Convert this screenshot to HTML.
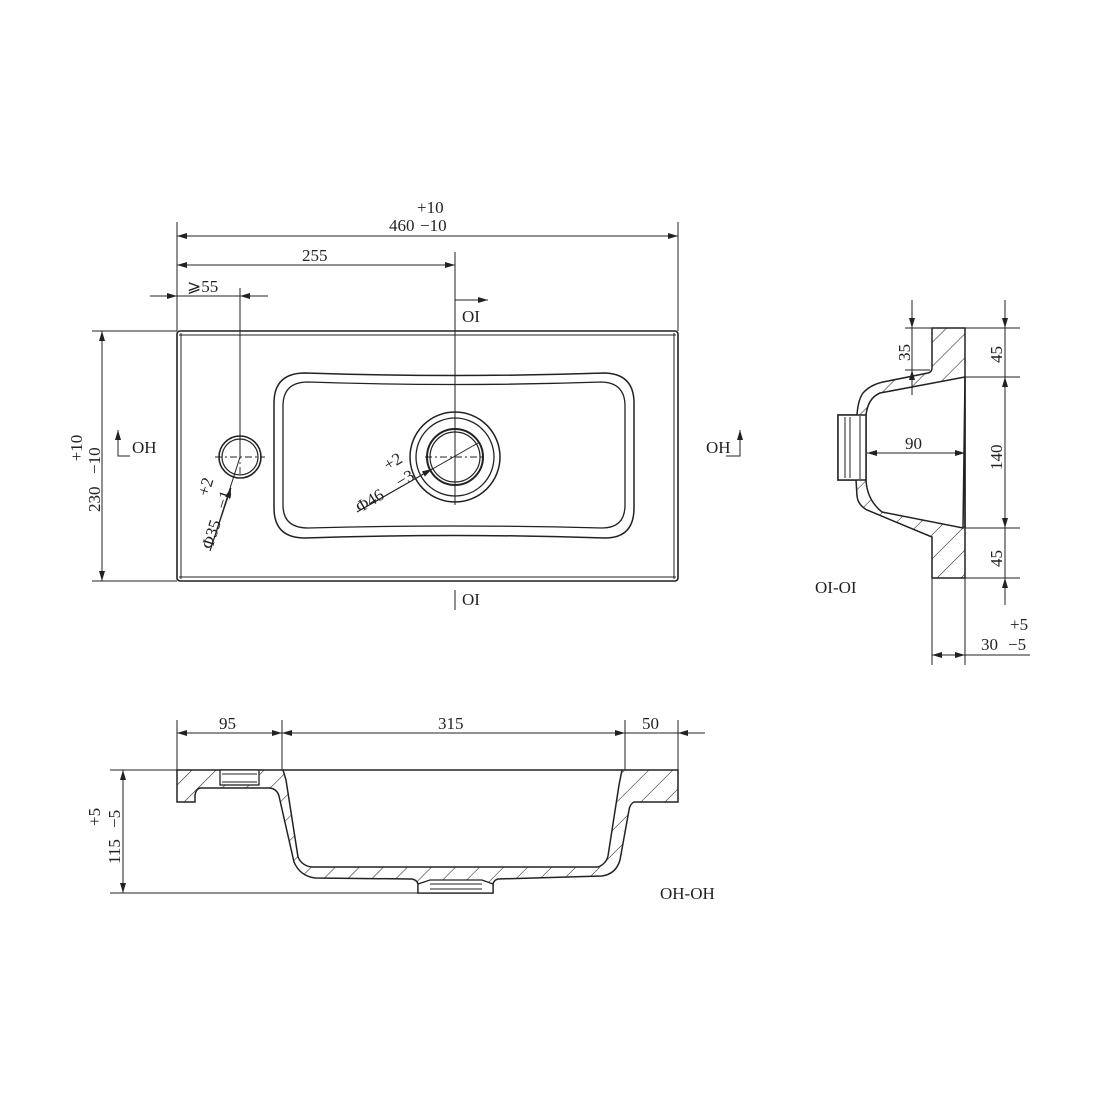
<!DOCTYPE html>
<html><head><meta charset="utf-8"><style>
html,body{margin:0;padding:0;background:#fff;}
svg{display:block;}
text{font-family:"Liberation Serif",serif;fill:#222;font-size:17px;}
</style></head><body>
<svg width="1100" height="1100" viewBox="0 0 1100 1100" xmlns="http://www.w3.org/2000/svg">
<defs>
<pattern id="h" patternUnits="userSpaceOnUse" width="17" height="17" patternTransform="rotate(45)">
<rect width="17" height="17" fill="#fff"/>
<line x1="0" y1="0" x2="0" y2="17" stroke="#222" stroke-width="1.1"/>
</pattern>
<marker id="a" viewBox="0 0 10 6" refX="10" refY="3" markerWidth="10" markerHeight="6" orient="auto-start-reverse" markerUnits="userSpaceOnUse">
<path d="M0,0 L10,3 L0,6 Z" fill="#222"/>
</marker>
</defs>
<g stroke="#222" fill="none" stroke-width="1">
<!-- TOP VIEW -->
<rect x="177" y="331" width="501" height="250" rx="3" stroke-width="1.6"/>
<line x1="179" y1="335" x2="676" y2="335"/>
<line x1="179" y1="577" x2="676" y2="577"/>
<line x1="181" y1="333" x2="181" y2="579"/>
<line x1="674" y1="333" x2="674" y2="579"/>
<path d="M305,373 Q455,378 605,373 Q634,374 634,403 L634,508 Q634,538 605,538 Q455,533 305,538 Q274,538 274,508 L274,403 Q274,373 305,373 Z" stroke-width="1.5"/>
<path d="M308,382 Q455,387 602,382 Q625,383 625,406 L625,505 Q625,528 602,528 Q455,524 308,528 Q283,528 283,505 L283,406 Q283,382 308,382 Z" stroke-width="1.3"/>
<circle cx="455" cy="457" r="45" stroke-width="1.5"/>
<circle cx="455" cy="457" r="39" stroke-width="1.3"/>
<circle cx="455" cy="457" r="28" stroke-width="2"/>
<circle cx="455" cy="457" r="25" stroke-width="1.2"/>
<circle cx="240" cy="457" r="21" stroke-width="1.6"/>
<circle cx="240" cy="457" r="18" stroke-width="1.2"/>
<g stroke-dasharray="7,3,2,3" stroke-width="0.9">
<line x1="425" y1="457" x2="485" y2="457"/>
<line x1="455" y1="427" x2="455" y2="487"/>
<line x1="215" y1="457" x2="265" y2="457"/>
<line x1="240" y1="437" x2="240" y2="477"/>
</g>
<!-- dims top -->
<line x1="177" y1="222" x2="177" y2="331"/>
<line x1="678" y1="222" x2="678" y2="331"/>
<line x1="177" y1="236" x2="678" y2="236" marker-start="url(#a)" marker-end="url(#a)"/>
<line x1="177" y1="265" x2="455" y2="265" marker-start="url(#a)" marker-end="url(#a)"/>
<line x1="455" y1="252" x2="455" y2="505"/>
<line x1="150" y1="296" x2="177" y2="296" marker-end="url(#a)"/>
<line x1="177" y1="296" x2="268" y2="296"/>
<line x1="268" y1="296" x2="240" y2="296" marker-end="url(#a)"/>
<line x1="240" y1="288" x2="240" y2="457"/>
<line x1="455" y1="300" x2="488" y2="300" marker-end="url(#a)"/>
<line x1="455" y1="590" x2="455" y2="610"/>
<!-- leaders -->
<line x1="240" y1="457" x2="210" y2="551"/>
<line x1="210" y1="551" x2="231" y2="488" marker-end="url(#a)"/>
<line x1="357" y1="512" x2="478" y2="443"/>
<line x1="357" y1="512" x2="432" y2="469" marker-end="url(#a)"/>
<!-- left vertical -->
<line x1="92" y1="331" x2="177" y2="331"/>
<line x1="92" y1="581" x2="177" y2="581"/>
<line x1="102" y1="331" x2="102" y2="581" marker-start="url(#a)" marker-end="url(#a)"/>
<polyline points="118,431 118,456 130,456"/>
<line x1="118" y1="456" x2="118" y2="430" marker-end="url(#a)"/>
<polyline points="740,431 740,456 726,456"/>
<line x1="740" y1="456" x2="740" y2="430" marker-end="url(#a)"/>

<!-- SIDE SECTION -->
<path fill-rule="evenodd" fill="url(#h)" stroke-width="1.5" d="M932,328 H965 V578 H932 V537 L867,510 Q858,505 857,496 L856,480 H838 V415 H857 Q858,400 863,393 Q870,385 883,382 L928,373 Q932,372 932,368 Z M965,377 L880,393 Q868,398 866,415 V480 Q867,500 882,512 L963,528 Z"/>
<rect x="838" y="415" width="28" height="65" fill="#fff" stroke-width="1.5"/>
<line x1="845" y1="417" x2="845" y2="478"/>
<line x1="850" y1="417" x2="850" y2="478"/>
<line x1="860" y1="416" x2="860" y2="479"/>
<line x1="965" y1="377" x2="965" y2="528" stroke-width="1.5"/>
<line x1="965" y1="328" x2="1020" y2="328"/>
<line x1="965" y1="377" x2="1020" y2="377"/>
<line x1="965" y1="528" x2="1020" y2="528"/>
<line x1="965" y1="578" x2="1020" y2="578"/>
<line x1="1005" y1="300" x2="1005" y2="328" marker-end="url(#a)"/>
<line x1="1005" y1="328" x2="1005" y2="578"/>
<line x1="1005" y1="377" x2="1005" y2="400" marker-start="url(#a)"/>
<line x1="1005" y1="505" x2="1005" y2="528" marker-end="url(#a)"/>
<line x1="1005" y1="605" x2="1005" y2="578" marker-end="url(#a)"/>
<line x1="905" y1="328" x2="932" y2="328"/>
<line x1="905" y1="370" x2="930" y2="370"/>
<line x1="912" y1="300" x2="912" y2="328" marker-end="url(#a)"/>
<line x1="912" y1="328" x2="912" y2="370"/>
<line x1="912" y1="395" x2="912" y2="370" marker-end="url(#a)"/>
<line x1="867" y1="453" x2="965" y2="453" marker-start="url(#a)" marker-end="url(#a)"/>
<line x1="932" y1="578" x2="932" y2="665"/>
<line x1="965" y1="578" x2="965" y2="665"/>
<line x1="932" y1="655" x2="1030" y2="655"/>
<line x1="932" y1="655" x2="948" y2="655" marker-start="url(#a)"/>
<line x1="950" y1="655" x2="965" y2="655" marker-end="url(#a)"/>

<!-- BOTTOM SECTION -->
<path fill="url(#h)" stroke-width="1.5" d="M177,770 H283 L286,780 L298,857 Q302,866 312,867 L598,867 Q606,864 608,856 L619,785 L622,770 H678 V802 H634 Q630,804 629,810 L620,860 Q616,874 602,876 L498,879 Q494,880 493,884 V893 H418 V884 Q417,880 412,879 L315,878 Q300,876 294,862 L279,796 Q277,789 270,788 H200 Q196,789 195,795 V802 H177 Z"/>
<rect x="220" y="770" width="39" height="15" fill="#fff" stroke-width="1.3"/>
<line x1="222" y1="774" x2="257" y2="774"/>
<line x1="222" y1="782" x2="257" y2="782"/>
<path d="M418,884 L430,880 H482 L493,884 V893 H418 Z" fill="#fff" stroke-width="1.3"/>
<line x1="430" y1="884" x2="482" y2="884"/>
<line x1="430" y1="889" x2="482" y2="889"/>
<line x1="283" y1="770" x2="622" y2="770" stroke-width="1.5"/>
<line x1="110" y1="770" x2="177" y2="770"/>
<line x1="110" y1="893" x2="418" y2="893"/>
<line x1="123" y1="770" x2="123" y2="893" marker-start="url(#a)" marker-end="url(#a)"/>
<line x1="177" y1="720" x2="177" y2="770"/>
<line x1="282" y1="720" x2="282" y2="770"/>
<line x1="625" y1="720" x2="625" y2="770"/>
<line x1="678" y1="720" x2="678" y2="770"/>
<line x1="177" y1="733" x2="282" y2="733" marker-start="url(#a)" marker-end="url(#a)"/>
<line x1="282" y1="733" x2="625" y2="733" marker-start="url(#a)" marker-end="url(#a)"/>
<line x1="625" y1="733" x2="705" y2="733"/>
<line x1="705" y1="733" x2="678" y2="733" marker-end="url(#a)"/>
</g>
<!-- text -->
<text x="417" y="213">+10</text>
<text x="389" y="231">460</text><text x="420" y="231">−10</text>
<text x="302" y="261">255</text>
<text x="187" y="292">⩾55</text>
<text x="462" y="322">OI</text>
<text x="462" y="605">OI</text>
<text x="132" y="453">OH</text>
<text x="706" y="453">OH</text>
<text transform="translate(82,448) rotate(-90)" text-anchor="middle">+10</text>
<text transform="translate(100,512) rotate(-90)">230</text>
<text transform="translate(100,474) rotate(-90)">−10</text>
<text transform="translate(212,550) rotate(-72)">Φ35</text>
<text transform="translate(226,510) rotate(-72)">−1</text>
<text transform="translate(208,497) rotate(-72)">+2</text>
<text transform="translate(360,513) rotate(-31)">Φ46</text>
<text transform="translate(400,488) rotate(-31)">−3</text>
<text transform="translate(388,471) rotate(-31)">+2</text>
<text x="815" y="593">OI-OI</text>
<text transform="translate(910,361) rotate(-90)">35</text>
<text x="905" y="449">90</text>
<text transform="translate(1002,363) rotate(-90)">45</text>
<text transform="translate(1002,470) rotate(-90)">140</text>
<text transform="translate(1002,567) rotate(-90)">45</text>
<text x="1010" y="630">+5</text>
<text x="981" y="650">30</text><text x="1008" y="650">−5</text>
<text x="219" y="729">95</text>
<text x="438" y="729">315</text>
<text x="642" y="729">50</text>
<text transform="translate(100,826) rotate(-90)">+5</text>
<text transform="translate(120,864) rotate(-90)">115</text>
<text transform="translate(120,828) rotate(-90)">−5</text>
<text x="660" y="899">OH-OH</text>
</svg>
</body></html>
